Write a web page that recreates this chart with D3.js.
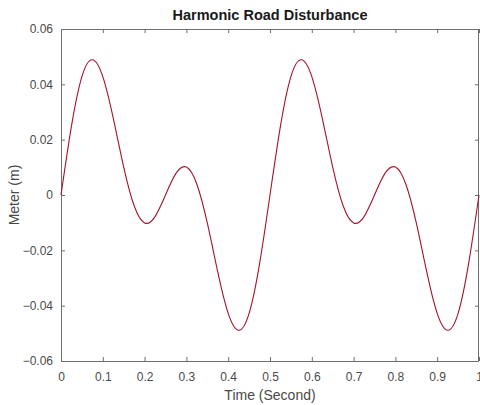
<!DOCTYPE html>
<html>
<head>
<meta charset="utf-8">
<script src="https://cdn.jsdelivr.net/npm/d3@7"></script>
<style>
  body { margin: 0; background: #fff; }
  svg { display: block; font-family: "Liberation Sans", Arial, sans-serif; }
</style>
</head>
<body>
<div id="chart"></div>
<script>
const width = 480;
const height = 405;
const margin = {top: 29, right: 1, bottom: 44, left: 61};

// time samples (s) and displacement (m)
const times = [0, 0.025, 0.05, 0.075, 0.1, 0.125, 0.15, 0.175, 0.2, 0.225,
    0.25, 0.275, 0.3, 0.325, 0.35, 0.375, 0.4, 0.425, 0.45, 0.475,
    0.5, 0.525, 0.55, 0.575, 0.6, 0.625, 0.65, 0.675, 0.7, 0.725,
    0.75, 0.775, 0.8, 0.825, 0.85, 0.875, 0.9, 0.925, 0.95, 0.975, 1];
const meters = [0, 0.0249, 0.0428, 0.0489, 0.0428, 0.0278, 0.0101, -0.0039, -0.0101, -0.0078,
    0, 0.0078, 0.0101, 0.0039, -0.0101, -0.0278, -0.0428, -0.0489, -0.0428, -0.0249,
    0, 0.0249, 0.0428, 0.0489, 0.0428, 0.0278, 0.0101, -0.0039, -0.0101, -0.0078,
    0, 0.0078, 0.0101, 0.0039, -0.0101, -0.0278, -0.0428, -0.0489, -0.0428, -0.0249, 0];

const xTicks = [0, 0.1, 0.2, 0.3, 0.4, 0.5, 0.6, 0.7, 0.8, 0.9, 1];
const yTicks = [-0.06, -0.04, -0.02, 0, 0.02, 0.04, 0.06];

const innerW = width - margin.left - margin.right;
const innerH = height - margin.top - margin.bottom;

const svg = d3.select("#chart").append("svg")
    .attr("width", width)
    .attr("height", height);

const g = svg.append("g")
    .attr("transform", "translate(" + margin.left + "," + margin.top + ")");

const x = d3.scaleLinear().domain([0, 1]).range([0, innerW]);
const y = d3.scaleLinear().domain([-0.06, 0.06]).range([innerH, 0]);

const axisColor = "#6e6e6e";
const textColor = "#4a4a4a";

function styleAxis(sel) {
    sel.select(".domain").remove();
    sel.selectAll(".tick line").attr("stroke", axisColor);
    sel.selectAll(".tick text").attr("fill", textColor).style("font-size", "12px");
}

// bottom / left axes with labels, ticks point inward
g.append("g")
    .attr("transform", "translate(0," + innerH + ")")
    .call(d3.axisBottom(x).tickValues(xTicks).tickSizeInner(-4).tickSizeOuter(0)
        .tickPadding(11).tickFormat(d3.format("")))
    .call(styleAxis);

g.append("g")
    .call(d3.axisLeft(y).tickValues(yTicks).tickSizeInner(-4).tickSizeOuter(0)
        .tickPadding(8).tickFormat(d => d === 0 ? "0" : d3.format(".2f")(d)))
    .call(styleAxis);

// top / right mirror ticks
g.append("g")
    .call(d3.axisTop(x).tickValues(xTicks).tickSizeInner(-4).tickSizeOuter(0).tickFormat(""))
    .call(styleAxis);

g.append("g")
    .attr("transform", "translate(" + innerW + ",0)")
    .call(d3.axisRight(y).tickValues(yTicks).tickSizeInner(-4).tickSizeOuter(0).tickFormat(""))
    .call(styleAxis);

// box
g.append("rect")
    .attr("x", 0.5).attr("y", 0.5)
    .attr("width", innerW - 1).attr("height", innerH)
    .attr("fill", "none")
    .attr("stroke", axisColor)
    .attr("stroke-width", 1);

const line = d3.line()
    .x((d, i) => x(times[i]))
    .y(d => y(d))
    .curve(d3.curveNatural);

g.append("path")
    .datum(meters)
    .attr("d", line)
    .attr("fill", "none")
    .attr("stroke", "#a2142f")
    .attr("stroke-width", 1.1);

svg.append("text")
    .attr("x", margin.left + innerW / 2)
    .attr("y", 20)
    .attr("text-anchor", "middle")
    .style("font-size", "14.5px")
    .style("font-weight", "bold")
    .attr("fill", "#1a1a1a")
    .text("Harmonic Road Disturbance");

svg.append("text")
    .attr("x", margin.left + innerW / 2)
    .attr("y", 400)
    .attr("text-anchor", "middle")
    .style("font-size", "14px")
    .attr("fill", textColor)
    .text("Time (Second)");

svg.append("text")
    .attr("transform", "translate(19," + (margin.top + innerH / 2) + ") rotate(-90)")
    .attr("text-anchor", "middle")
    .style("font-size", "14px")
    .attr("fill", textColor)
    .text("Meter (m)");
</script>
</body>
</html>
